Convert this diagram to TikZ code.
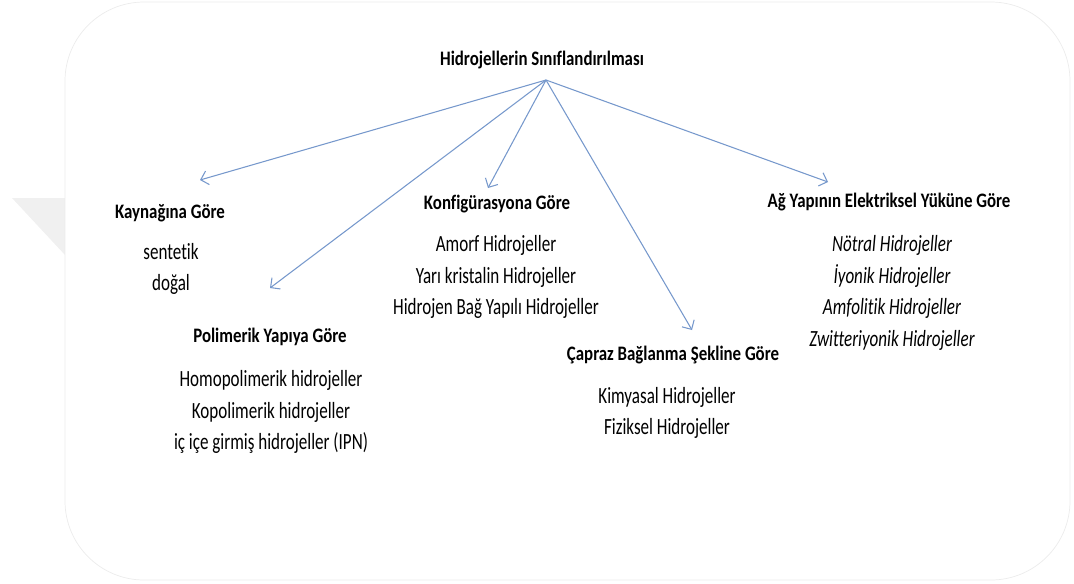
\documentclass[tikz,border=0pt]{standalone}
\usepackage{fontspec}
\setmainfont{Carlito}[FakeStretch=0.82,Ligatures=NoCommon]
\newfontfamily\itemfont{Carlito}[FakeStretch=0.735,Ligatures=NoCommon]
\usetikzlibrary{arrows.meta}
\definecolor{arrowblue}{RGB}{118,152,204}

\begin{document}
\begin{tikzpicture}[x=0.02cm,y=-0.02cm,
    head/.style={font=\bfseries\fontsize{11.7}{14}\selectfont},
    items/.style={align=center,font=\itemfont\fontsize{13.2}{17.9}\selectfont},
    link/.style={draw=arrowblue,line width=0.6pt,-{Straight Barb[length=4pt,width=8pt]}}]
  \useasboundingbox (0,0) rectangle (1074,583);
  % background card
  \fill[gray!12] (12,198) -- (65,198) -- (65,255) -- cycle;
  \draw[gray!15,fill=white,rounded corners=45] (65,2) rectangle (1070,580);

  \node[head] (title) at (542,60) {Hidrojellerin Sınıflandırılması};
  \coordinate (hub) at (546,80);

  \node[head] (kaynak) at (170,213) {Kaynağına Göre};
  \node[items] (kaynak list) at (171,269) {sentetik\\doğal};
  \node[head] (konfig) at (497,204) {Konfigürasyona Göre};
  \node[items] (konfig list) at (496,277) {Amorf Hidrojeller\\Yarı kristalin Hidrojeller\\Hidrojen Bağ Yapılı Hidrojeller};
  \node[head] (polimer) at (270,337) {Polimerik Yapıya Göre};
  \node[items] (polimer list) at (271,412) {Homopolimerik hidrojeller\\Kopolimerik hidrojeller\\iç içe girmiş hidrojeller (IPN)};
  \node[head] (capraz) at (673,355) {Çapraz Bağlanma Şekline Göre};
  \node[items] (capraz list) at (667,413) {Kimyasal Hidrojeller\\Fiziksel Hidrojeller};
  \node[head] (yuk) at (889,202) {Ağ Yapının Elektriksel Yüküne Göre};
  \node[items,font=\itemfont\itshape\fontsize{13.2}{17.9}\selectfont] (yuk list) at (892,293) {Nötral Hidrojeller\\İyonik Hidrojeller\\Amfolitik Hidrojeller\\Zwitteriyonik Hidrojeller};

  % arrow ends
  \coordinate (kaynak tip) at (200,180);
  \coordinate (polimer tip) at (270,288);
  \coordinate (konfig tip) at (488,188);
  \coordinate (capraz tip) at (692,330);
  \coordinate (yuk tip) at (828,182);

  \draw[link] (hub) -- (kaynak tip);
  \draw[link] (hub) -- (polimer tip);
  \draw[link] (hub) -- (konfig tip);
  \draw[link] (hub) -- (capraz tip);
  \draw[link] (hub) -- (yuk tip);
\end{tikzpicture}
\end{document}
